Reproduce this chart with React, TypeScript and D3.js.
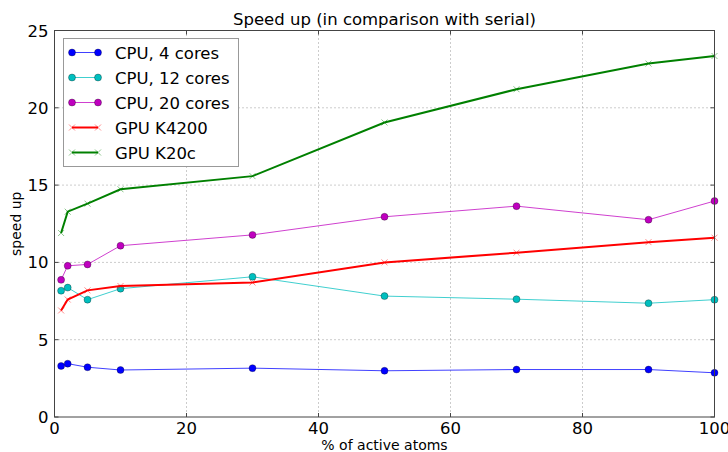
import React from "react";
import * as d3 from "d3";

const xValues = [1, 2, 5, 10, 30, 50, 70, 90, 100];
const cpu4 = [3.3, 3.45, 3.22, 3.04, 3.16, 2.99, 3.07, 3.07, 2.86];
const cpu12 = [8.17, 8.37, 7.59, 8.3, 9.07, 7.82, 7.62, 7.36, 7.59];
const cpu20 = [8.87, 9.78, 9.87, 11.08, 11.78, 12.95, 13.64, 12.76, 13.97];
const k4200 = [6.89, 7.6, 8.19, 8.47, 8.7, 10.0, 10.63, 11.31, 11.6];
const k20c = [11.9, 13.28, 13.8, 14.73, 15.58, 19.05, 21.2, 22.86, 23.35];

const xTicks = [0, 20, 40, 60, 80, 100];
const yTicks = [0, 5, 10, 15, 20, 25];

const seriesNames = ["CPU, 4 cores", "CPU, 12 cores", "CPU, 20 cores", "GPU K4200", "GPU K20c"];
const seriesData = [cpu4, cpu12, cpu20, k4200, k20c];
const seriesColors = ["#0000ff", "#00bfbf", "#bf00bf", "#ff0000", "#008000"];
const seriesMarkers = ["o", "o", "o", "x", "x"];
const seriesWidths = [1, 1, 1, 2, 2];

const W = 728;
const H = 452;
const L = 54.5;
const R = 714.5;
const T = 30.5;
const B = 417;
const FONT = "DejaVu Sans, sans-serif";

export default function App() {
  const x = d3.scaleLinear().domain([0, 100]).range([L, R]);
  const y = d3.scaleLinear().domain([0, 25]).range([B, T]);
  const line = d3
    .line<number>()
    .x((_, i) => x(xValues[i]))
    .y((d) => y(d));

  const renderMarker = (kind: string, cx: number, cy: number, color: string, key: string) => {
    if (kind === "o") {
      return <circle key={key} cx={cx} cy={cy} r={3.5} fill={color} stroke="#000" strokeWidth={0.5} strokeOpacity={0.6} />;
    }
    const s = 3;
    return (
      <g key={key} stroke={color} strokeWidth={1} opacity={0.45}>
        <line x1={cx - s} y1={cy - s} x2={cx + s} y2={cy + s} />
        <line x1={cx - s} y1={cy + s} x2={cx + s} y2={cy - s} />
      </g>
    );
  };

  const legendX = 63.5;
  const legendY = 38.5;
  const legendW = 175;
  const legendH = 128;
  const rowGap = 25;

  return (
    <svg
      width={W}
      height={H}
      style={{ position: "absolute", left: 0, top: 0, background: "#fff" }}
      fontFamily={FONT}
    >
      <rect x={0} y={0} width={W} height={H} fill="#fff" />
      {/* grid */}
      {xTicks.slice(1, -1).map((t) => (
        <line key={"gx" + t} x1={x(t)} x2={x(t)} y1={T} y2={B} stroke="#999" strokeWidth={1} strokeDasharray="1,3" />
      ))}
      {yTicks.slice(1, -1).map((t) => (
        <line key={"gy" + t} x1={L} x2={R} y1={y(t)} y2={y(t)} stroke="#999" strokeWidth={1} strokeDasharray="1,3" />
      ))}
      {/* series */}
      {seriesData.map((data, si) => (
        <g key={"s" + si}>
          <path d={line(data) || ""} fill="none" stroke={seriesColors[si]} strokeWidth={seriesWidths[si]} strokeOpacity={si < 3 ? 0.75 : 1} />
          {data.map((v, i) => renderMarker(seriesMarkers[si], x(xValues[i]), y(v), seriesColors[si], "m" + si + "_" + i))}
        </g>
      ))}
      {/* spines */}
      <rect x={L} y={T} width={R - L} height={B - T} fill="none" stroke="#444" strokeWidth={1} />
      {/* ticks */}
      {xTicks.map((t) => (
        <g key={"tx" + t}>
          <line x1={x(t)} x2={x(t)} y1={B} y2={B - 4} stroke="#444" />
          <line x1={x(t)} x2={x(t)} y1={T} y2={T + 4} stroke="#444" />
          <text x={x(t)} y={B + 16.5} textAnchor="middle" fontSize={16.5} fill="#000">
            {t}
          </text>
        </g>
      ))}
      {yTicks.map((t) => (
        <g key={"ty" + t}>
          <line x1={L} x2={L + 4} y1={y(t)} y2={y(t)} stroke="#444" />
          <line x1={R} x2={R - 4} y1={y(t)} y2={y(t)} stroke="#444" />
          <text x={L - 6} y={y(t) + 6} textAnchor="end" fontSize={16.5} fill="#000">
            {t}
          </text>
        </g>
      ))}
      {/* labels */}
      <text x={(L + R) / 2} y={25} textAnchor="middle" fontSize={16.5} fill="#000">
        Speed up (in comparison with serial)
      </text>
      <text x={(L + R) / 2} y={450} textAnchor="middle" fontSize={14} fill="#000">
        % of active atoms
      </text>
      <text transform={`translate(20.5, ${(T + B) / 2}) rotate(-90)`} textAnchor="middle" fontSize={14} fill="#000">
        speed up
      </text>
      {/* legend */}
      <rect x={legendX} y={legendY} width={legendW} height={legendH} fill="#fff" stroke="#999" strokeWidth={1} />
      {seriesNames.map((name, i) => {
        const cy = legendY + 14 + i * rowGap;
        return (
          <g key={"lg" + i}>
            <line x1={72} x2={98} y1={cy} y2={cy} stroke={seriesColors[i]} strokeWidth={seriesWidths[i]} strokeOpacity={i < 3 ? 0.75 : 1} />
            {renderMarker(seriesMarkers[i], 72, cy, seriesColors[i], "lm1" + i)}
            {renderMarker(seriesMarkers[i], 98, cy, seriesColors[i], "lm2" + i)}
            <text x={115} y={cy + 6} fontSize={16.5} fill="#000">
              {name}
            </text>
          </g>
        );
      })}
    </svg>
  );
}
